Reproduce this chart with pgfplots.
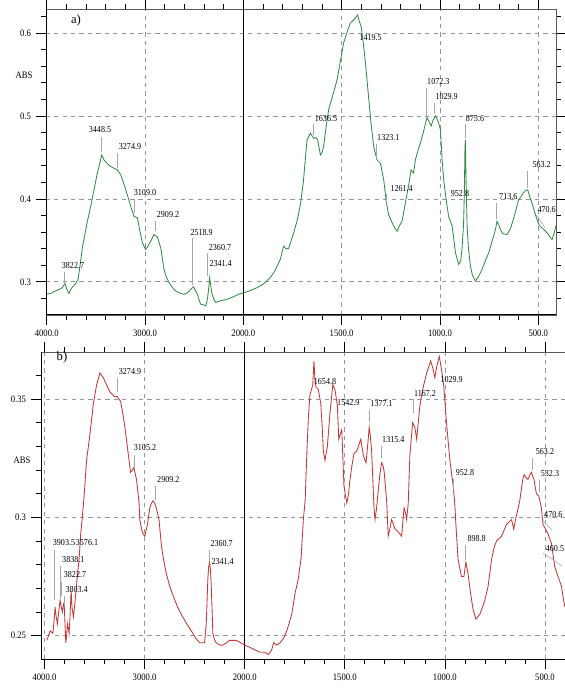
\documentclass[border=0pt]{standalone}
\usepackage{fontspec}
\setmainfont{Liberation Serif}
\newfontfamily\lab[FakeStretch=0.88]{Liberation Serif}
\usepackage{pgfplots}
\pgfplotsset{compat=1.18}
\definecolor{cg}{RGB}{50,140,70}
\definecolor{cr}{RGB}{195,55,55}
\definecolor{gridc}{RGB}{150,150,150}
\pgfplotsset{
  ftir/.style={
    scale only axis, anchor=south west,
    x dir=reverse,
    x coord trafo/.code={\pgfmathparse{##1<2000?2*##1-2000:##1}},
    xtick={4000,3000,2000,1500,1000,500},
    xticklabels={4000.0,3000.0,2000.0,1500.0,1000.0,500.0},
    minor xtick={3800,3600,3400,3200,2800,2600,2400,2200,1900,1800,1700,1600,1400,1300,1200,1100,900,800,700,600,400},
    tick align=outside,
    major tick length=2.5mm, minor tick length=1.2mm,
    tick style={black, line width=0.5pt},
    grid=major,
    major grid style={gridc, dashed, line width=0.5pt},
    axis line style={gray!70!black, line width=0.5pt},
    ticklabel style={font=\lab\fontsize{7}{8}\selectfont},
  }
}
\newcommand{\ann}{\lab\fontsize{6.5}{7}\selectfont}
\begin{document}
\begin{tikzpicture}
% ---------- panel a ----------
\begin{axis}[ftir, at={(11.5mm,93.5mm)}, width=127.5mm, height=76.5mm,
  xmin=410, xmax=4007, ymin=0.26, ymax=0.629,
  ytick={0.3,0.4,0.5,0.6}, yticklabels={0.3,0.4,0.5,0.6},
  minor ytick={0.28,0.32,0.34,0.36,0.38,0.42,0.44,0.46,0.48,0.52,0.54,0.56,0.58,0.62}]
\addplot[black, line width=0.8pt] coordinates {(2000,0.26) (2000,0.629)};
\addplot[cg, line width=0.6pt] coordinates {
(4000,0.285)(3960,0.286)(3910,0.289)(3870,0.291)(3840,0.293)(3814,0.298)(3795,0.291)(3773,0.286)(3750,0.292)(3728,0.295)(3705,0.298)(3681,0.303)(3660,0.320)(3637,0.341)(3610,0.358)(3586,0.373)(3550,0.392)(3519,0.411)(3490,0.428)(3468,0.439)(3440,0.453)(3417,0.447)(3380,0.442)(3349,0.439)(3300,0.436)(3281,0.435)(3247,0.429)(3220,0.420)(3196,0.411)(3170,0.401)(3145,0.391)(3112,0.379)(3077,0.377)(3050,0.360)(3027,0.347)(2993,0.339)(2970,0.343)(2942,0.349)(2908,0.357)(2874,0.354)(2840,0.341)(2807,0.315)(2780,0.305)(2756,0.299)(2720,0.293)(2688,0.289)(2640,0.286)(2603,0.285)(2565,0.287)(2535,0.291)(2508,0.294)(2485,0.289)(2467,0.285)(2450,0.278)(2434,0.273)(2400,0.272)(2383,0.271)(2365,0.279)(2350,0.295)(2342,0.305)(2332,0.296)(2322,0.287)(2300,0.279)(2281,0.275)(2240,0.277)(2200,0.278)(2162,0.279)(2100,0.282)(2050,0.285)(1993,0.287)(1960,0.290)(1930,0.293)(1900,0.297)(1863,0.305)(1840,0.313)(1812,0.327)(1795,0.343)(1783,0.340)(1770,0.340)(1744,0.359)(1725,0.375)(1710,0.393)(1695,0.420)(1685,0.447)(1676,0.471)(1659,0.479)(1650,0.476)(1642,0.473)(1630,0.474)(1622,0.471)(1608,0.453)(1600,0.456)(1592,0.463)(1580,0.485)(1566,0.508)(1545,0.525)(1523,0.544)(1505,0.568)(1490,0.588)(1470,0.603)(1456,0.612)(1439,0.616)(1430,0.618)(1419,0.622)(1410,0.614)(1401,0.608)(1390,0.588)(1379,0.564)(1362,0.520)(1350,0.490)(1337,0.463)(1320,0.447)(1303,0.443)(1286,0.423)(1273,0.396)(1261,0.381)(1245,0.372)(1230,0.365)(1218,0.361)(1205,0.368)(1193,0.373)(1176,0.395)(1159,0.417)(1147,0.435)(1134,0.431)(1125,0.447)(1110,0.460)(1100,0.467)(1085,0.480)(1066,0.498)(1055,0.493)(1045,0.488)(1035,0.495)(1023,0.500)(1010,0.494)(998,0.484)(989,0.447)(981,0.423)(968,0.398)(956,0.379)(938,0.367)(921,0.335)(905,0.321)(895,0.325)(888,0.339)(880,0.370)(876,0.407)(873,0.460)(871,0.471)(868,0.430)(862,0.367)(855,0.340)(845,0.319)(835,0.308)(820,0.301)(805,0.306)(786,0.315)(770,0.325)(752,0.335)(740,0.345)(727,0.355)(717,0.364)(710,0.373)(700,0.368)(693,0.363)(680,0.358)(659,0.357)(640,0.365)(625,0.377)(610,0.390)(600,0.399)(590,0.402)(577,0.407)(565,0.410)(554,0.411)(545,0.404)(532,0.395)(520,0.385)(506,0.375)(495,0.368)(481,0.365)(468,0.362)(455,0.359)(440,0.354)(430,0.351)(420,0.358)(410,0.368)};
\end{axis}
% ---------- panel b ----------
\begin{axis}[ftir, at={(10.25mm,7.425mm)}, width=131mm, height=76.75mm,
  xmin=400, xmax=4035, ymin=0.240, ymax=0.3697,
  ytick={0.25,0.3,0.35}, yticklabels={0.25,0.3,0.35},
  minor ytick={0.26,0.27,0.28,0.29,0.31,0.32,0.33,0.34,0.36}]
\addplot[black, line width=0.8pt] coordinates {(2000,0.240) (2000,0.3697)};
\addplot[cr, line width=0.6pt] coordinates {
(3976,0.248)(3960,0.250)(3943,0.252)(3916,0.251)(3905,0.256)(3894,0.262)(3883,0.258)(3871,0.255)(3858,0.260)(3844,0.265)(3832,0.262)(3821,0.260)(3812,0.263)(3804,0.264)(3795,0.255)(3787,0.247)(3779,0.250)(3771,0.255)(3762,0.253)(3754,0.251)(3745,0.258)(3734,0.269)(3725,0.262)(3711,0.258)(3698,0.263)(3685,0.269)(3670,0.276)(3655,0.282)(3638,0.293)(3618,0.302)(3604,0.309)(3580,0.324)(3552,0.333)(3530,0.341)(3512,0.348)(3479,0.356)(3446,0.361)(3413,0.359)(3380,0.356)(3346,0.353)(3303,0.351)(3274,0.351)(3240,0.349)(3218,0.344)(3197,0.338)(3164,0.327)(3140,0.319)(3120,0.320)(3107,0.321)(3081,0.316)(3065,0.310)(3055,0.306)(3048,0.299)(3030,0.295)(3015,0.293)(2998,0.292)(2971,0.297)(2948,0.304)(2930,0.306)(2915,0.307)(2900,0.306)(2883,0.304)(2856,0.299)(2832,0.288)(2810,0.282)(2782,0.276)(2750,0.271)(2716,0.267)(2670,0.262)(2633,0.259)(2580,0.255)(2533,0.252)(2490,0.249)(2451,0.247)(2401,0.247)(2384,0.255)(2368,0.274)(2360,0.279)(2351,0.281)(2342,0.278)(2334,0.271)(2325,0.260)(2318,0.251)(2300,0.248)(2284,0.247)(2250,0.246)(2218,0.246)(2180,0.247)(2151,0.248)(2120,0.248)(2085,0.248)(2040,0.247)(2000,0.246)(1973,0.245)(1950,0.244)(1923,0.243)(1900,0.243)(1881,0.242)(1865,0.244)(1856,0.247)(1840,0.246)(1823,0.247)(1805,0.249)(1790,0.252)(1775,0.256)(1765,0.259)(1748,0.268)(1732,0.274)(1718,0.283)(1707,0.299)(1698,0.307)(1690,0.326)(1682,0.342)(1674,0.352)(1666,0.354)(1660,0.356)(1654,0.366)(1649,0.358)(1644,0.355)(1632,0.354)(1620,0.348)(1614,0.340)(1607,0.328)(1599,0.324)(1587,0.330)(1574,0.344)(1560,0.356)(1549,0.354)(1537,0.347)(1530,0.333)(1515,0.337)(1504,0.313)(1490,0.306)(1481,0.310)(1474,0.316)(1464,0.322)(1454,0.327)(1440,0.328)(1432,0.330)(1420,0.333)(1407,0.326)(1394,0.323)(1385,0.331)(1378,0.338)(1372,0.334)(1366,0.328)(1360,0.316)(1354,0.304)(1349,0.299)(1341,0.304)(1333,0.311)(1325,0.318)(1316,0.323)(1309,0.322)(1303,0.319)(1297,0.313)(1291,0.307)(1283,0.292)(1275,0.295)(1266,0.299)(1257,0.297)(1249,0.295)(1235,0.294)(1216,0.292)(1204,0.304)(1197,0.302)(1191,0.299)(1183,0.306)(1175,0.326)(1161,0.340)(1150,0.338)(1141,0.333)(1133,0.340)(1125,0.347)(1111,0.354)(1091,0.361)(1071,0.366)(1060,0.363)(1050,0.359)(1040,0.364)(1028,0.368)(1016,0.362)(1005,0.355)(992,0.340)(975,0.324)(958,0.313)(950,0.305)(945,0.297)(934,0.282)(917,0.275)(905,0.275)(895,0.281)(884,0.276)(872,0.268)(859,0.261)(845,0.257)(825,0.259)(800,0.265)(784,0.271)(767,0.282)(755,0.287)(742,0.290)(717,0.292)(692,0.297)(667,0.299)(656,0.295)(645,0.300)(639,0.302)(626,0.307)(611,0.316)(604,0.318)(597,0.317)(585,0.316)(575,0.318)(568,0.319)(555,0.316)(543,0.310)(531,0.309)(518,0.304)(510,0.297)(497,0.295)(485,0.293)(468,0.289)(451,0.279)(435,0.275)(418,0.271)(407,0.265)(400,0.262)};
\end{axis}
% ---------- annotations in pixel coordinates ----------
\begin{scope}[x=0.25mm, y=-0.25mm, shift={(0,172.25mm)}]
\draw[black, line width=0.7pt] (46,9)--(46,315)--(556,315);
\draw[black, line width=0.7pt] (41,352.3)--(41,659.3)--(565,659.3);
\node[font=\fontsize{9}{10}\selectfont] at (76,20.7) {a)};
\node[font=\fontsize{9}{10}\selectfont] at (62,357) {b)};
\node[font=\lab\fontsize{7}{8}\selectfont] at (24,75) {ABS};
\node[font=\lab\fontsize{7}{8}\selectfont] at (22,460) {ABS};
\begin{scope}[gray!70, line width=0.4pt]
% panel a marker lines
\draw (64.3,272)--(64.3,284); \draw (101,137)--(101,152); \draw (117,153)--(117,168);
\draw (134.7,199)--(134.7,213); \draw (155.7,221)--(155.7,231); \draw (192.3,238)--(192.3,285);
\draw (207,253)--(207,276); \draw (313.3,124)--(313.3,135); \draw (376.7,144)--(376.7,158);
\draw (386,194)--(386,203); \draw (426.7,88)--(426.7,116); \draw (434.7,103)--(434.7,114);
\draw (465,124)--(465,138); \draw (496.7,203)--(496.7,219); \draw (527.7,171)--(527.7,188);
\draw (536.7,215)--(545,228);
% panel b marker lines
\draw (117.3,378)--(117.3,392); \draw (134,455)--(134,468); \draw (155.7,486)--(155.7,500);
\draw (54,550)--(54,600); \draw (60,566)--(60,598); \draw (61.7,582)--(61.7,596); \draw (64,596)--(64,605);
\draw (209,550)--(209,560); \draw (369.3,410)--(369.3,422); \draw (381.7,446)--(381.7,458);
\draw (413,399)--(413,413); \draw (453.3,479)--(453.3,490); \draw (465.3,545)--(465.3,560);
\draw (532.3,458)--(532.3,470); \draw (539,480)--(539,492);
\draw (543,521)--(552,530); \draw (543,553)--(562,566);
\end{scope}
\begin{scope}[every node/.style={font=\ann, inner sep=0pt}]
\node at (73,266) {3822.7}; \node at (100,130) {3448.5}; \node at (130,147) {3274.9};
\node at (145,193) {3109.0}; \node at (168,215) {2909.2}; \node at (201.7,232.7) {2518.9};
\node at (220,247.3) {2360.7}; \node at (220.7,263.3) {2341.4}; \node at (326,118.3) {1636.5};
\node at (370.7,37.3) {1419.5}; \node at (388.3,137.3) {1323.1}; \node at (401.7,188.3) {1261.4};
\node at (438.3,81.7) {1072.3}; \node at (446.7,96.7) {1029.9}; \node at (475,118.3) {875.6};
\node at (460,193.3) {952.8}; \node at (508.3,196.7) {713.6}; \node at (541.7,165) {563.2};
\node at (546.7,210) {470.6};
\node at (130,371.7) {3274.9}; \node at (145,448) {3105.2}; \node at (168.3,480) {2909.2};
\node at (64,543) {3903.5}; \node at (87,543) {3576.1}; \node at (73.3,560) {3838.1};
\node at (75,575) {3822.7}; \node at (76.7,590) {3803.4}; \node at (221.7,543.3) {2360.7};
\node at (222.7,561.7) {2341.4}; \node at (325,381.7) {1654.8}; \node at (348.3,402.7) {1542.9};
\node at (381.7,403.3) {1377.1}; \node at (393.3,440) {1315.4}; \node at (425,393.3) {1167.2};
\node at (451.7,379.3) {1029.9}; \node at (465,472.7) {952.8}; \node at (476.7,538.3) {898.8};
\node at (545,451.7) {563.2}; \node at (550,473.3) {532.3}; \node at (553.3,515) {470.6};
\node at (555,548.3) {460.5};
\end{scope}
\end{scope}
\pgfresetboundingbox
\path (0,0) rectangle (141mm,172.25mm);
\end{tikzpicture}
\end{document}
